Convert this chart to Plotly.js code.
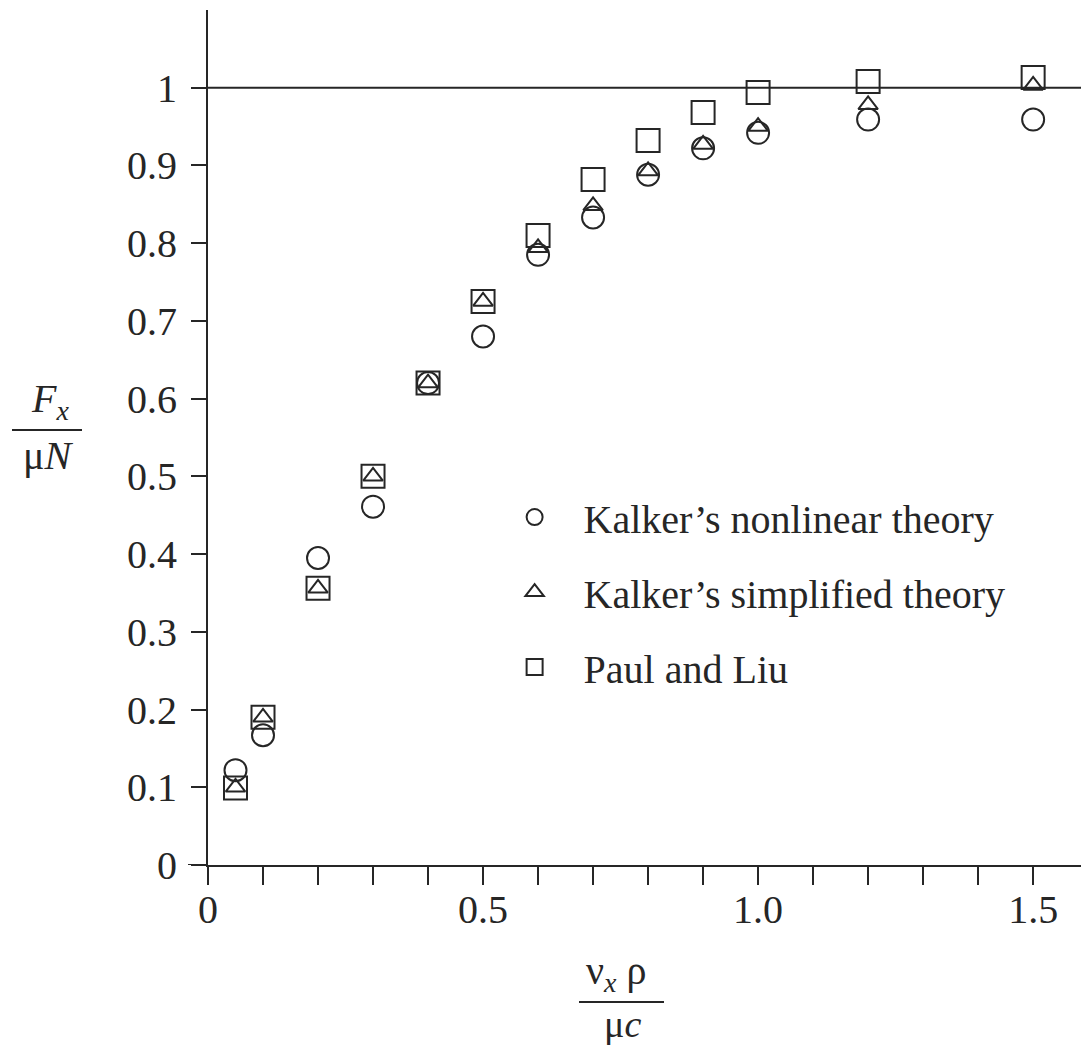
<!DOCTYPE html>
<html>
<head>
<meta charset="utf-8">
<script src="https://cdn.plot.ly/plotly-3.0.1.min.js"></script>
<style>html,body{margin:0;padding:0;background:#fff;}#chart{width:1081px;height:1045px;}</style>
</head>
<body>
<div id="chart"></div>
<script>
// Data
const xValues = [0.05, 0.1, 0.2, 0.3, 0.4, 0.5, 0.6, 0.7, 0.8, 0.9, 1.0, 1.2, 1.5];
const kalkerNonlinear  = [0.122, 0.167, 0.395, 0.461, 0.62, 0.68, 0.785, 0.833, 0.888, 0.922, 0.942, 0.959, 0.959];
const kalkerSimplified = [0.10, 0.19, 0.356, 0.50, 0.62, 0.725, 0.794, 0.848, 0.893, 0.927, 0.95, 0.978, 1.003];
const paulLiu          = [0.099, 0.19, 0.356, 0.50, 0.62, 0.725, 0.81, 0.882, 0.932, 0.968, 0.994, 1.008, 1.013];
const seriesNames = ["Kalker\u2019s nonlinear theory", "Kalker\u2019s simplified theory", "Paul and Liu"];
const yTickVals = [0, 0.1, 0.2, 0.3, 0.4, 0.5, 0.6, 0.7, 0.8, 0.9, 1];
const yTickText = ["0", "0.1", "0.2", "0.3", "0.4", "0.5", "0.6", "0.7", "0.8", "0.9", "1"];
const xTickVals = [0, 0.5, 1.0, 1.5];
const xTickText = ["0", "0.5", "1.0", "1.5"];
const xMinorStep = 0.1;

const ink = '#262626';
const fontFam = 'Liberation Serif, Times New Roman, serif';

const traces = [
  {x: xValues, y: kalkerNonlinear, name: seriesNames[0], legendgroup: 'a',
   mode: 'markers', type: 'scatter', cliponaxis: false,
   marker: {symbol: 'circle-open', size: 22, color: ink, line: {width: 2, color: ink}}},
  {x: xValues, y: kalkerSimplified, name: seriesNames[1], legendgroup: 'b',
   mode: 'markers', type: 'scatter', cliponaxis: false,
   marker: {symbol: 'triangle-up-open', size: 17, color: ink, line: {width: 2, color: ink}}},
  {x: xValues, y: paulLiu, name: seriesNames[2], legendgroup: 'c',
   mode: 'markers', type: 'scatter', cliponaxis: false,
   marker: {symbol: 'square-open', size: 23, color: ink, line: {width: 2, color: ink}}}
];

const layout = {
  width: 1081, height: 1045,
  margin: {l: 208, r: 0, t: 10, b: 180},
  paper_bgcolor: '#fff', plot_bgcolor: '#fff',
  font: {family: fontFam, color: ink, size: 38},
  showlegend: true,
  legend: {
    x: 0.318, y: 0.445, xanchor: 'left', yanchor: 'top',
    font: {family: fontFam, size: 40, color: ink},
    traceorder: 'grouped', tracegroupgap: 20, itemwidth: 88,
    bgcolor: 'rgba(0,0,0,0)', borderwidth: 0
  },
  xaxis: {
    range: [0, 1.587], showgrid: false, zeroline: false,
    showline: true, linecolor: ink, linewidth: 2,
    ticks: 'outside', ticklen: 18, tickwidth: 2, tickcolor: ink,
    tickmode: 'array', tickvals: xTickVals, ticktext: xTickText,
    ticklabelstandoff: -10,
    minor: {ticks: 'outside', ticklen: 18, tickwidth: 2, tickcolor: ink, tick0: 0, dtick: xMinorStep, showgrid: false},
    tickfont: {family: fontFam, size: 40, color: ink}
  },
  yaxis: {
    range: [0, 1.1], showgrid: false, zeroline: false,
    showline: true, linecolor: ink, linewidth: 2,
    ticks: 'outside', ticklen: 15, tickwidth: 2, tickcolor: ink,
    tickmode: 'array', tickvals: yTickVals, ticktext: yTickText,
    ticklabelstandoff: 6,
    tickfont: {family: fontFam, size: 40, color: ink}
  },
  shapes: [
    {type: 'line', xref: 'paper', yref: 'y', x0: 0, x1: 1, y0: 1, y1: 1, line: {color: ink, width: 2}},
    {type: 'line', xref: 'paper', yref: 'y', x0: -20/873, x1: 0, y0: 0, y1: 0, line: {color: ink, width: 2}},
    {type: 'line', xref: 'paper', yref: 'paper', x0: -196/873, x1: -126/873, y0: 435/855, y1: 435/855, line: {color: ink, width: 2}},
    {type: 'line', xref: 'paper', yref: 'paper', x0: 371/873, x1: 456/873, y0: -137/855, y1: -137/855, line: {color: ink, width: 2}}
  ],
  annotations: [
    {xref: 'paper', yref: 'paper', x: -158/873, y: 437/855, xanchor: 'center', yanchor: 'bottom', showarrow: false,
     text: '<i>F</i><sub><i>x</i></sub>', font: {family: fontFam, size: 40, color: ink}},
    {xref: 'paper', yref: 'paper', x: -160/873, y: 434/855, xanchor: 'center', yanchor: 'top', showarrow: false,
     text: '\u03bc<i>N</i>', font: {family: fontFam, size: 40, color: ink}},
    {xref: 'paper', yref: 'paper', x: 408/873, y: -135/855, xanchor: 'center', yanchor: 'bottom', showarrow: false,
     text: '\u03bd<sub><i>x</i></sub> \u03c1', font: {family: fontFam, size: 40, color: ink}},
    {xref: 'paper', yref: 'paper', x: 414/873, y: -136/855, xanchor: 'center', yanchor: 'top', showarrow: false,
     text: '\u03bc<i>c</i>', font: {family: fontFam, size: 38, color: ink}}
  ]
};

Plotly.newPlot('chart', traces, layout, {staticPlot: true, displayModeBar: false});
</script>
</body>
</html>
